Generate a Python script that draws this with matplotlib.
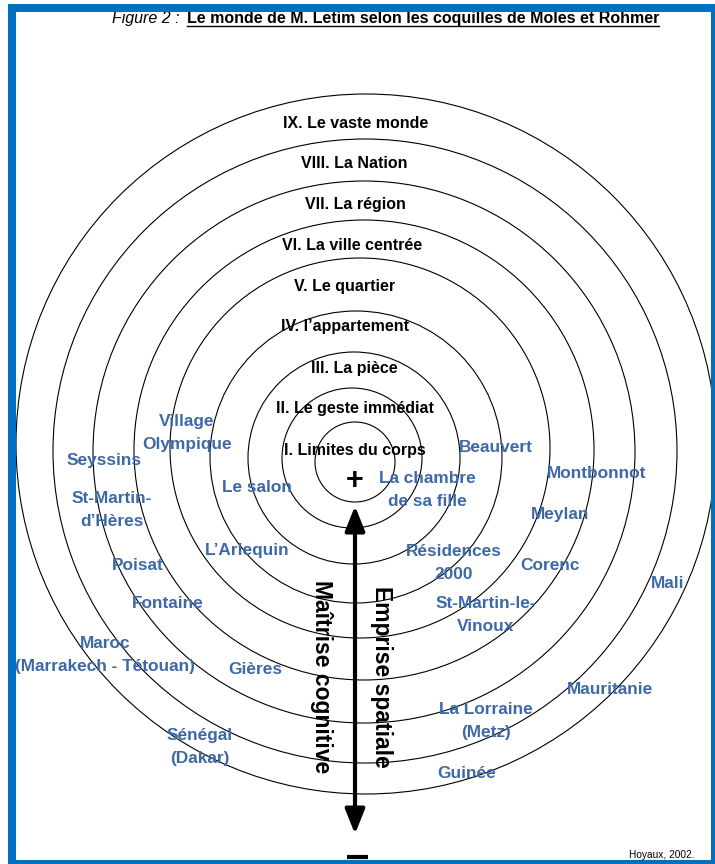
import matplotlib
matplotlib.use("Agg")
import matplotlib.pyplot as plt
from matplotlib.patches import Circle, Rectangle

plt.rcParams['font.family'] = ['Liberation Sans', 'DejaVu Sans']

# shells of Moles and Rohmer (innermost first), pixel units of the scan
ring_labels = ["I. Limites du corps", "II. Le geste immédiat", "III. La pièce",
               "IV. l\u2019appartement", "V. Le quartier", "VI. La ville centrée",
               "VII. La région", "VIII. La Nation", "IX. Le vaste monde"]
ring_cx = [355, 352, 354, 356, 360, 364, 364, 365, 366]
ring_cy = [462, 458, 458, 457, 448, 450, 452, 451, 444]
ring_r = [40, 70, 106, 146, 190, 230, 271, 312, 350]
ring_label_x = [355, 355, 354, 345, 345, 352, 355, 354, 356]
ring_label_y = [451, 409, 368, 327, 286, 245, 204, 164, 123]

# places in M. Letim's world
places = ["Village\nOlympique", "Seyssins", "St-Martin-\nd\u2019Hères", "Le salon",
          "Beauvert", "La chambre\nde sa fille", "Montbonnot", "Meylan",
          "L\u2019Arlequin", "Résidences\n2000", "Corenc", "Poisat", "Mali",
          "Fontaine", "St-Martin-le-\nVinoux", "Maroc\n(Marrakech - Tétouan)",
          "Gières", "Mauritanie", "La Lorraine\n(Metz)", "Sénégal\n(Dakar)", "Guinée"]
place_x = [187, 104, 112, 257, 496, 427, 597, 560, 247, 454, 550, 138, 668,
           168, 486, 105, 255, 610, 486, 200, 467]
place_y = [433, 461, 510, 487, 447, 490, 473, 514, 551, 563, 565, 565, 584,
           604, 615, 655, 670, 689, 721, 747, 774]

blue = '#3d69a7'
frame_blue = '#0070c0'

fig = plt.figure(figsize=(7.15, 8.64), dpi=100)
ax = fig.add_axes([0, 0, 1, 1])
ax.set_xlim(0, 715)
ax.set_ylim(864, 0)
ax.axis('off')

for i in range(len(ring_r)):
    ax.add_patch(Circle((ring_cx[i], ring_cy[i]), ring_r[i], fill=False,
                        ec='black', lw=0.8, zorder=1))
    ax.text(ring_label_x[i], ring_label_y[i], ring_labels[i], ha='center', va='center',
            fontsize=11.5, fontweight='bold', color='black', zorder=3)

for name, x, y in zip(places, place_x, place_y):
    ax.text(x, y, name, ha='center', va='center', fontsize=12.4, fontweight='bold',
            color=blue, linespacing=1.65, zorder=3)

# the axis of both gradients
ax.annotate('', xy=(355, 506), xytext=(355, 834),
            arrowprops=dict(arrowstyle='<|-|>,head_length=0.75,head_width=0.3',
                            lw=3, color='black', shrinkA=0, shrinkB=0,
                            mutation_scale=20), zorder=4)
ax.text(355, 481, '+', ha='center', va='center', fontsize=22, fontweight='bold', zorder=4)
ax.plot([347, 368], [857, 857], color='black', lw=3, solid_capstyle='butt', zorder=4)

ax.text(322, 677, 'Maîtrise cognitive', rotation=-90, ha='center', va='center',
        fontsize=16.5, fontweight='bold', zorder=4)
ax.text(381, 677, 'Emprise spatiale', rotation=-90, ha='center', va='center',
        fontsize=16.5, fontweight='bold', zorder=4)

# title, with the underlined part
ax.text(184, 18, 'Figure 2 : ', ha='right', va='center', fontsize=11.5,
        style='italic', zorder=5)
t = ax.text(187, 18, 'Le monde de M. Letim selon les coquilles de Moles et Rohmer',
            ha='left', va='center', fontsize=11.5, fontweight='bold', zorder=5)
fig.canvas.draw()
bb = t.get_window_extent().transformed(ax.transData.inverted())
ax.plot([bb.x0, bb.x1], [26, 26], color='black', lw=1, zorder=5)

ax.text(694, 855, 'Hoyaux, 2002.', ha='right', va='center', fontsize=7.3, zorder=5)

# blue frame around the page
ax.add_patch(Rectangle((12, 8), 703, 856, fill=False, ec=frame_blue, lw=5.8,
                       joinstyle='miter', zorder=6))

fig.savefig('out.png', dpi=100)
